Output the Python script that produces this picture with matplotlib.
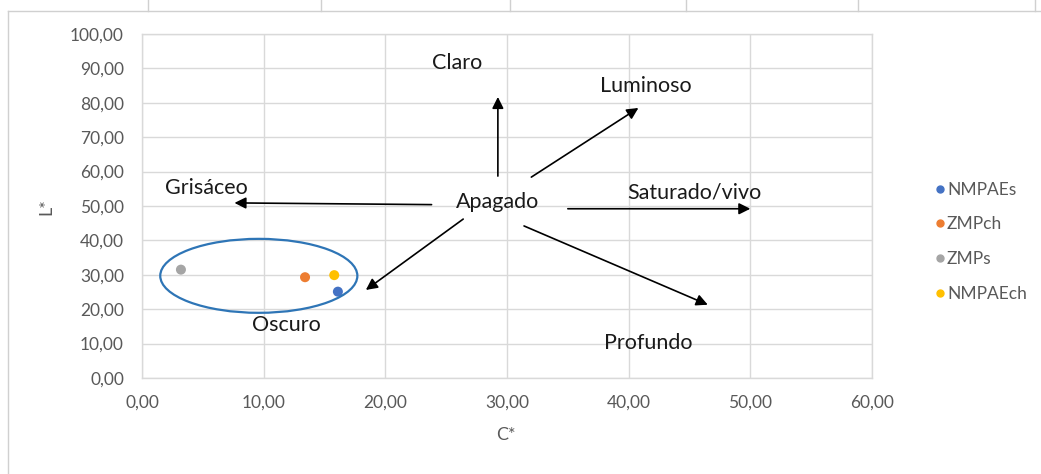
import matplotlib.pyplot as plt
from matplotlib.lines import Line2D
from matplotlib.patches import Ellipse

# CIELAB points (C*, L*)
series = ['NMPAEs', 'ZMPch', 'ZMPs', 'NMPAEch']
c_star = [16.1, 13.4, 3.2, 15.8]
l_star = [25.1, 29.3, 31.5, 29.9]
colors = ['#4472C4', '#ED7D31', '#A5A5A5', '#FFC000']

# descriptive words and the arrows pointing to them
words = ['Claro', 'Luminoso', 'Grisáceo', 'Apagado', 'Saturado/vivo', 'Oscuro', 'Profundo']
word_x = [25.9, 41.4, 5.3, 29.2, 45.4, 11.9, 41.6]
word_y = [91.6, 84.9, 55.2, 51.2, 53.9, 15.4, 10.1]

arrow_from = [(29.25, 58.7), (32.0, 58.4), (23.8, 50.4), (35.0, 49.2), (26.4, 46.2), (31.4, 44.2)]
arrow_to = [(29.25, 81.7), (40.8, 78.5), (7.6, 50.9), (50.0, 49.2), (18.4, 25.6), (46.5, 21.3)]

xticks = [0, 10, 20, 30, 40, 50, 60]
yticks = [0, 10, 20, 30, 40, 50, 60, 70, 80, 90, 100]

def comma(v):
    return f"{v:.2f}".replace('.', ',')

plt.rcParams['font.family'] = ['Lato', 'DejaVu Sans']

fig = plt.figure(figsize=(10.41, 4.74), dpi=100)
ax = fig.add_axes([142/1041, 1 - 378/474, 730/1041, 344/474])

grid_c = '#D9D9D9'
ax.set_xlim(0, 60)
ax.set_ylim(0, 100)
ax.set_xticks(xticks)
ax.set_yticks(yticks)
ax.set_xticklabels([comma(v) for v in xticks])
ax.set_yticklabels([comma(v) for v in yticks])
ax.tick_params(length=0, colors='#595959', labelsize=12.5)
ax.tick_params(axis='y', pad=13)
ax.tick_params(axis='x', pad=12)
ax.grid(True, color=grid_c, lw=1)
ax.set_axisbelow(True)
for s in ax.spines.values():
    s.set_color(grid_c)
    s.set_linewidth(1)

ax.set_xlabel('C*', color='#595959', fontsize=13)
ax.set_ylabel('L*', color='#595959', fontsize=13)
ax.xaxis.set_label_coords(506/1041, 1 - 435/474, transform=fig.transFigure)
ax.yaxis.set_label_coords(46/1041, 1 - 207/474, transform=fig.transFigure)
ax.xaxis.label.set_va('center')
ax.yaxis.label.set_va('center')

for name, cx, ly, col in zip(series, c_star, l_star, colors):
    ax.scatter([cx], [ly], s=52, color=col, label=name, zorder=4, edgecolors='none')

ax.add_patch(Ellipse((9.6, 29.7), 16.2, 21.5, fill=False, ec='#2E75B6', lw=1.6, zorder=5))

for (x0, y0), (x1, y1) in zip(arrow_from, arrow_to):
    ax.annotate('', xy=(x1, y1), xytext=(x0, y0),
                arrowprops=dict(arrowstyle='-|>', mutation_scale=17, lw=1.2,
                                color='black', shrinkA=0, shrinkB=0), zorder=6)

for w, x, y in zip(words, word_x, word_y):
    ax.text(x, y, w, ha='center', va='center', fontsize=15.5, color='#1a1a1a', zorder=7)

handles = [Line2D([], [], ls='', marker='o', ms=5, color=c) for c in colors]
fig.legend(handles, series, loc='upper left', bbox_to_anchor=(927/1041, 1 - 173/474),
           frameon=False, fontsize=12.5, labelcolor='#595959', handlelength=0.5,
           handletextpad=0.15, labelspacing=1.08, borderpad=0)

# chart border and spreadsheet cell lines
fig.add_artist(Line2D([8/1041, 1], [1 - 11/474, 1 - 11/474], color='#D0D0D0', lw=1))
fig.add_artist(Line2D([8/1041, 8/1041], [0, 1 - 11/474], color='#D0D0D0', lw=1))
for cx in [148, 321, 510, 686, 858, 1035]:
    fig.add_artist(Line2D([cx/1041, cx/1041], [1 - 11/474, 1], color='#D0D0D0', lw=1))

fig.savefig('out.png', dpi=100)
